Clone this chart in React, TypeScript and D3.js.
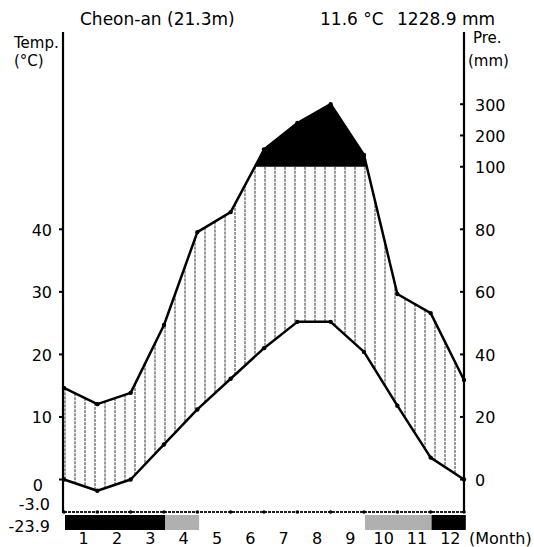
import * as d3 from "d3";

const station = "Cheon-an (21.3m)";
const meanTemp = "11.6 °C";
const totalPre = "1228.9 mm";

// plotted at the 13 month boundaries, left axis to right axis
const tempPoints = [0, -1.8, 0, 5.6, 11.2, 16.1, 21.0, 25.2, 25.2, 20.4, 11.8, 3.5, 0];
const prePoints = [29.3, 24.1, 27.7, 49.4, 79.1, 85.5, 155, 240, 300, 137.6, 59.3, 53.2, 31.8];

const months = ["1", "2", "3", "4", "5", "6", "7", "8", "9", "10", "11", "12"];
// frost bar: "sure" = black, "prob" = grey
const frost = ["sure", "sure", "sure", "prob", "", "", "", "", "", "prob", "prob", "sure"];

const tempTicks = [0, 10, 20, 30, 40];
const preTicks = [0, 20, 40, 60, 80, 100, 200, 300];
const minLabels = ["-3.0", "-23.9"];

const W = 534;
const H = 547;
const left = 64;
const right = 464;
const font = "'DejaVu Sans', sans-serif";

export default function App() {
  const x = d3.scaleLinear().domain([0, 12]).range([left, right]);
  const yT = d3.scaleLinear().domain([0, 50]).range([479.5, 166.75]);
  // above 100 mm the scale is reduced to 1/10
  const yP = d3.scaleLinear().domain([0, 100, 300]).range([479.5, 166.75, 104.2]);
  const band = d3.scaleBand().domain(months).range([left, right]);

  const xs = tempPoints.map((_, i) => x(i));
  const tYs = tempPoints.map((d) => yT(d));
  const pYs = prePoints.map((d) => yP(d));
  const tempAt = d3.scaleLinear().domain(xs).range(tYs);
  const preAt = d3.scaleLinear().domain(xs).range(pYs);
  const y100 = yP(100);

  const line = d3.line<number>().x((_, i) => xs[i]).y((d) => d);

  // part of the precipitation line above 100 mm, with the crossing points added
  const wetPts: [number, number][] = [];
  pYs.forEach((py, i) => {
    if (py <= y100) wetPts.push([xs[i], py]);
    const ny = pYs[i + 1];
    if (ny !== undefined && (py - y100) * (ny - y100) < 0) {
      const f = (y100 - py) / (ny - py);
      wetPts.push([xs[i] + f * (xs[i + 1] - xs[i]), y100]);
    }
  });
  const wetArea = d3
    .area<[number, number]>()
    .x((d) => d[0])
    .y0(y100)
    .y1((d) => d[1]);

  const hatch = d3.range(65, right, 10).map((hx) => ({
    x: hx,
    top: Math.max(preAt(hx), y100),
    bottom: tempAt(hx),
  }));

  return (
    <svg width={W} height={H} style={{ position: "absolute", left: 0, top: 0 }} fontFamily={font}>
      {/* titles */}
      <text x={80} y={25} fontSize={17}>{station}</text>
      <text x={320} y={25} fontSize={17}>{meanTemp}</text>
      <text x={397} y={25} fontSize={17}>{totalPre}</text>
      <text x={14} y={48} fontSize={15}>Temp.</text>
      <text x={14} y={66} fontSize={15}>(°C)</text>
      <text x={473} y={43} fontSize={15}>Pre.</text>
      <text x={468} y={66} fontSize={15}>(mm)</text>

      {/* hatching between temp and precipitation */}
      {hatch.map((h) =>
        h.bottom > h.top ? (
          <line key={h.x} x1={h.x} x2={h.x} y1={h.top} y2={h.bottom} stroke="#333" strokeWidth={1} strokeDasharray="3 1" />
        ) : null
      )}

      {/* precipitation above 100 mm */}
      <path d={wetArea(wetPts) || ""} fill="#000" />

      <path d={line(pYs) || ""} fill="none" stroke="#000" strokeWidth={2.5} strokeLinejoin="round" />
      <path d={line(tYs) || ""} fill="none" stroke="#000" strokeWidth={2.5} strokeLinejoin="round" />
      {xs.map((px, i) => (
        <g key={i}>
          <circle cx={px} cy={tYs[i]} r={2.2} fill="#000" />
          <circle cx={px} cy={pYs[i]} r={2.2} fill="#000" />
        </g>
      ))}

      {/* axes */}
      <line x1={left - 1} x2={left - 1} y1={32} y2={513} stroke="#000" strokeWidth={2.2} />
      <line x1={right} x2={right} y1={32} y2={513} stroke="#000" strokeWidth={2.2} />
      <line x1={left} x2={right} y1={512} y2={512} stroke="#222" strokeWidth={2} strokeDasharray="3 1" />
      {xs.map((px, i) => (
        <circle key={i} cx={px} cy={512} r={1.8} fill="#000" />
      ))}

      {tempTicks.map((t) => (
        <g key={t}>
          <line x1={left - 5} x2={left} y1={yT(t)} y2={yT(t)} stroke="#000" strokeWidth={2} />
          <text
            x={t === 0 ? 43 : 52}
            y={yT(t) + (t === 0 ? 6 : 1)}
            fontSize={16}
            textAnchor="end"
            dominantBaseline="central"
          >
            {t}
          </text>
        </g>
      ))}
      {minLabels.map((m, i) => (
        <text key={m} x={50} y={504 + i * 22} fontSize={16} textAnchor="end" dominantBaseline="central">
          {m}
        </text>
      ))}

      {preTicks.map((p) => (
        <g key={p}>
          <line x1={right - 4} x2={right} y1={yP(p)} y2={yP(p)} stroke="#000" strokeWidth={2} />
          <text x={475} y={yP(p) + 1} fontSize={16} dominantBaseline="central">
            {p}
          </text>
        </g>
      ))}

      {/* frost bar */}
      {months.map((m, i) =>
        frost[i] ? (
          <rect
            key={m}
            x={band(m)! + 1}
            y={515}
            width={band.bandwidth() + 0.8}
            height={15}
            fill={frost[i] === "sure" ? "#000" : "#b0b0b0"}
          />
        ) : null
      )}

      {months.map((m) => (
        <text key={m} x={band(m)! + band.bandwidth() / 2 + 3} y={544} fontSize={16} textAnchor="middle">
          {m}
        </text>
      ))}
      <text x={469} y={544} fontSize={16}>(Month)</text>
    </svg>
  );
}
